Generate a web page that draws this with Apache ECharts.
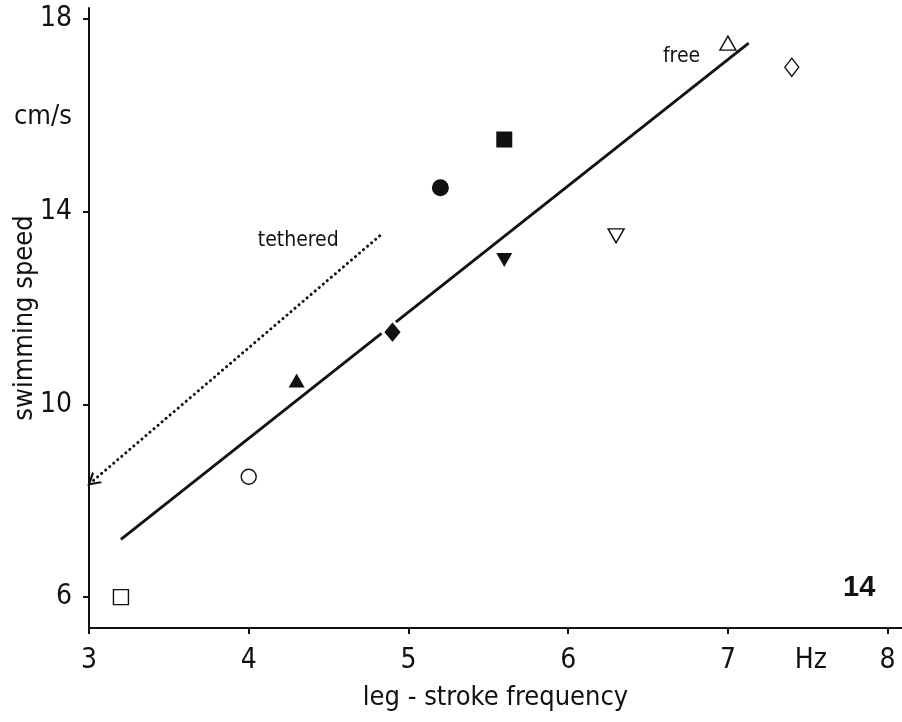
<!DOCTYPE html>
<html>
<head>
<meta charset="utf-8">
<script src="https://cdn.jsdelivr.net/npm/echarts@6/dist/echarts.min.js"></script>
<style>
  html, body { margin: 0; padding: 0; background: #fff; }
  #chart { width: 902px; height: 722px; }
</style>
</head>
<body>
<div id="chart"></div>
<script>
// Leg-stroke frequency (Hz) vs swimming speed (cm/s), one marker per animal
const freqHz  = [3.2, 4.0, 4.3, 4.9, 5.2, 5.6, 5.6, 6.3, 7.0, 7.4];
const speedCm = [6.0, 8.5, 10.5, 11.5, 14.5, 15.5, 13.0, 13.5, 17.5, 17.0];
const markerShape  = ['rect', 'circle', 'triangle', 'diamond', 'circle', 'rect', 'triangle', 'triangle', 'triangle', 'diamond'];
const markerFilled = [false, false, true, true, true, true, true, false, false, false];
const markerFlip   = [false, false, false, false, false, false, true, true, false, false];

// Regression line for free swimming
const fitFreq  = [3.2, 7.13];
const fitSpeed = [7.2, 17.5];

// Tethered shift arrow (start -> end)
const tetherFreq  = [4.82, 3.02];
const tetherSpeed = [13.5, 8.4];

// Axis ticks
const xTicks = [3, 4, 5, 6, 7, 8];
const yTicks = [6, 10, 14, 18];
const xUnitAt = 7.52; // position of the "Hz" unit label

const FONT = '"Liberation Sans Narrow", "DejaVu Sans Condensed", "DejaVu Sans", sans-serif';
const INK = '#111';

const sizeFor = (shape, filled) => {
  if (shape === 'rect') return filled ? 16 : 15;
  if (shape === 'circle') return filled ? 17 : 15;
  if (shape === 'triangle') return [16, 14];
  if (shape === 'diamond') return filled ? [20, 24] : [14, 18];
  return 14;
};

const points = freqHz.map((x, i) => ({
  value: [x, speedCm[i]],
  symbol: markerShape[i],
  symbolSize: sizeFor(markerShape[i], markerFilled[i]),
  symbolRotate: markerFlip[i] ? 180 : 0,
  itemStyle: markerFilled[i]
    ? { color: INK, opacity: 1, borderColor: markerShape[i] === 'diamond' ? '#fff' : INK, borderWidth: markerShape[i] === 'diamond' ? 3 : 0 }
    : { color: '#fff', opacity: 1, borderColor: INK, borderWidth: 1.4 }
}));

const textMark = (x, y, text, size) => ({
  coord: [x, y],
  symbol: 'rect',
  symbolSize: 1,
  itemStyle: { color: 'rgba(0,0,0,0)' },
  label: { show: true, formatter: text, fontFamily: FONT, fontSize: size, color: INK, position: 'inside' }
});

const chart = echarts.init(document.getElementById('chart'), null, { renderer: 'canvas' });

chart.setOption({
  backgroundColor: '#fff',
  animation: false,
  grid: { left: 89, right: 0, top: 8, bottom: 94, containLabel: false, outerBoundsMode: 'none' },
  xAxis: {
    type: 'value',
    min: 3,
    max: 8.09,
    name: 'leg - stroke frequency',
    nameLocation: 'middle',
    nameGap: 56,
    nameMoveOverlap: false,
    nameTextStyle: { fontFamily: FONT, fontSize: 27, color: INK },
    axisLine: { show: true, lineStyle: { color: INK, width: 2 } },
    axisTick: { show: true, length: 6, lineStyle: { color: INK, width: 2 }, customValues: xTicks },
    axisLabel: {
      customValues: xTicks.concat([xUnitAt]),
      formatter: (v) => (Math.abs(v - xUnitAt) < 1e-6 ? 'Hz' : String(v)),
      fontFamily: FONT, fontSize: 28, color: INK, margin: 19
    },
    splitLine: { show: false }
  },
  yAxis: {
    type: 'value',
    min: 5.36,
    max: 18.23,
    name: 'swimming speed',
    nameLocation: 'middle',
    nameRotate: 90,
    nameGap: 51,
    nameMoveOverlap: false,
    nameTextStyle: { fontFamily: FONT, fontSize: 27, color: INK },
    axisLine: { show: true, lineStyle: { color: INK, width: 2 } },
    axisTick: { show: true, length: 6, lineStyle: { color: INK, width: 2 }, customValues: yTicks },
    axisLabel: {
      customValues: yTicks,
      fontFamily: FONT, fontSize: 28, color: INK, margin: 17
    },
    splitLine: { show: false }
  },
  graphic: [
    { type: 'text', left: 14, top: 103, style: { text: 'cm/s', font: '27px ' + FONT, fill: INK } },
    { type: 'text', left: 843, top: 573, style: { text: '14', font: 'bold 29px Arial, "Liberation Sans", sans-serif', fill: INK } }
  ],
  series: [
    {
      type: 'line',
      data: fitFreq.map((x, i) => [x, fitSpeed[i]]),
      showSymbol: false,
      symbol: 'none',
      lineStyle: { color: INK, width: 2.8 },
      z: 2,
      markPoint: { data: [textMark(6.71, 17.23, 'free', 21)] }
    },
    {
      type: 'line',
      data: [],
      markLine: {
        silent: true,
        symbol: ['none', 'path://M0,12 L6,0 L12,12 L10,12 L6,4 L2,12 Z'],
        symbolSize: [15, 13],
        lineStyle: { color: INK, width: 3, type: [0.1, 5.2], cap: 'round' },
        label: { show: false },
        data: [[
          { coord: [tetherFreq[0], tetherSpeed[0]] },
          { coord: [tetherFreq[1], tetherSpeed[1]] }
        ]]
      },
      markPoint: { data: [textMark(4.31, 13.4, 'tethered', 21)] }
    },
    {
      type: 'scatter',
      data: points,
      z: 5
    }
  ]
});
</script>
</body>
</html>
